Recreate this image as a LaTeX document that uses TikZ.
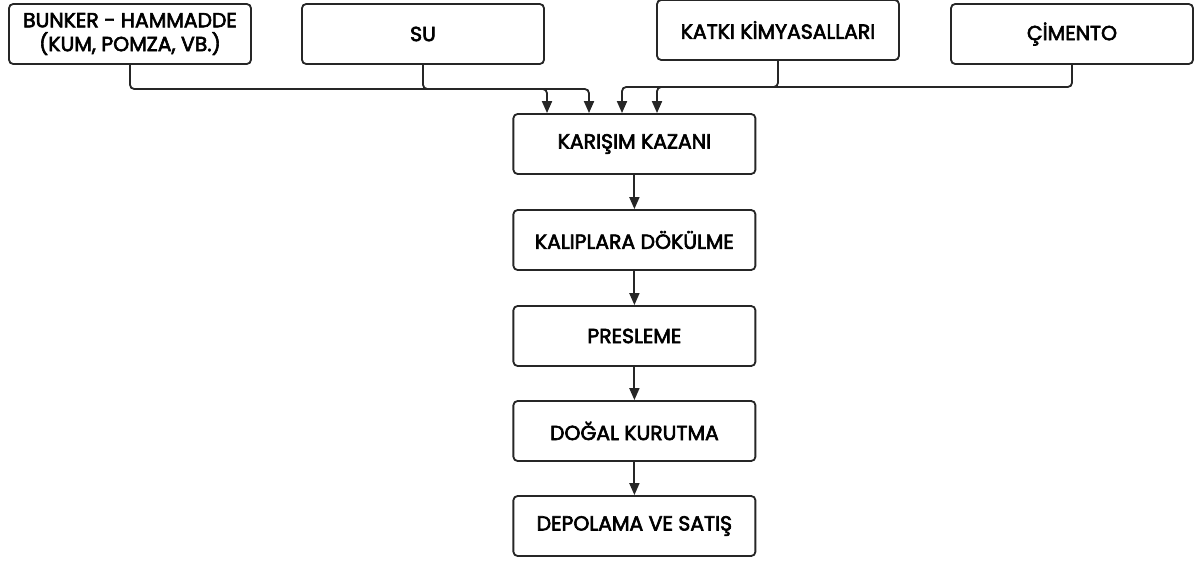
\documentclass[tikz,border=0pt]{standalone}
\usepackage{fontspec}
\setmainfont{Poppins}[BoldFont=Poppins, BoldFeatures={FakeBold=3}]
\usetikzlibrary{arrows.meta}
\begin{document}
\begin{tikzpicture}[
    line width=1.3pt, draw=black!85,
    box/.style = {draw=black!85, rounded corners=3pt, align=center,
                  minimum width=6.05cm, minimum height=1.5cm,
                  inner sep=2pt, font=\fontsize{14.5}{17}\selectfont\bfseries},
    feed/.style = {-{Triangle[length=3mm,width=2.5mm]}, rounded corners=3pt},
  ]
    \useasboundingbox (0,0) rectangle (30,-14.125);

    \node[box] (bunker) at (3.25,-0.85)   {BUNKER - HAMMADDE\\(KUM, POMZA, VB.)};
    \node[box] (su)     at (10.575,-0.85) {SU};
    \node[box] (katki)  at (19.45,-0.75)  {KATKI KİMYASALLARI};
    \node[box] (cimento) at (26.8,-0.85)  {ÇİMENTO};

    \node[box] (mix)   at (15.86,-3.6)    {KARIŞIM KAZANI};
    \node[box] (pour)  at (15.86,-6.0)    {KALIPLARA DÖKÜLME};
    \node[box] (press) at (15.86,-8.4)    {PRESLEME};
    \node[box] (dry)   at (15.86,-10.775) {DOĞAL KURUTMA};
    \node[box] (store) at (15.86,-13.15)  {DEPOLAMA VE SATIŞ};

    \draw[feed] (bunker.south)  |- (13.675,-2.225) -- ([xshift=-2.185cm]mix.north);
    \draw[feed] (su.south)      |- (14.725,-2.225) -- ([xshift=-1.135cm]mix.north);
    \draw[feed] (katki.south)   |- (16.425,-2.175) -- ([xshift=0.565cm]mix.north);
    \draw[feed] (cimento.south) |- (15.55,-2.175)  -- ([xshift=-0.31cm]mix.north);

    \draw[feed] (mix.south)   -- (pour.north);
    \draw[feed] (pour.south)  -- (press.north);
    \draw[feed] (press.south) -- (dry.north);
    \draw[feed] (dry.south)   -- (store.north);
  \end{tikzpicture}
\end{document}
